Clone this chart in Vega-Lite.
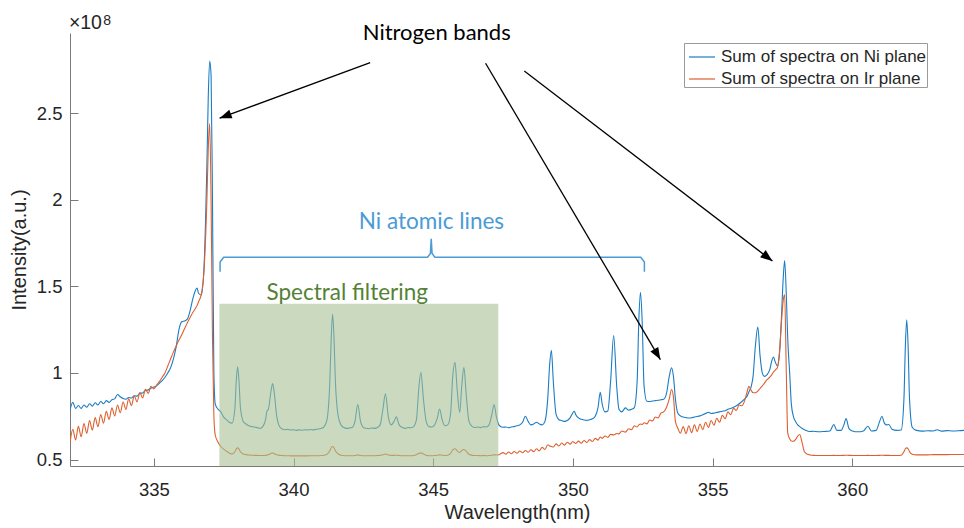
{
  "$schema": "https://vega.github.io/schema/vega-lite/v6.json",
  "width": 894,
  "height": 433,
  "autosize": {"type": "none"},
  "padding": {"left": 70, "top": 33, "right": 0, "bottom": 62},
  "background": "white",
  "config": {
    "view": {"stroke": null},
    "font": "Liberation Sans",
    "axis": {
      "grid": false,
      "domainColor": "#7a7a7a",
      "tickColor": "#7a7a7a",
      "labelColor": "#262626",
      "titleColor": "#262626",
      "labelFont": "Liberation Sans",
      "titleFont": "Liberation Sans",
      "labelFontSize": 18.5,
      "titleFontSize": 20,
      "titleFontWeight": "normal"
    }
  },
  "datasets": {
    "spectra": [
      {"w": 332.0, "ni": 0.785, "ir": 0.595},
      {"w": 332.1, "ni": 0.830, "ir": 0.674},
      {"w": 332.2, "ni": 0.795, "ir": 0.613},
      {"w": 332.3, "ni": 0.812, "ir": 0.691},
      {"w": 332.4, "ni": 0.795, "ir": 0.632},
      {"w": 332.5, "ni": 0.815, "ir": 0.708},
      {"w": 332.6, "ni": 0.802, "ir": 0.651},
      {"w": 332.7, "ni": 0.822, "ir": 0.725},
      {"w": 332.8, "ni": 0.808, "ir": 0.670},
      {"w": 332.9, "ni": 0.828, "ir": 0.742},
      {"w": 333.0, "ni": 0.815, "ir": 0.689},
      {"w": 333.1, "ni": 0.835, "ir": 0.760},
      {"w": 333.2, "ni": 0.822, "ir": 0.710},
      {"w": 333.3, "ni": 0.840, "ir": 0.779},
      {"w": 333.4, "ni": 0.830, "ir": 0.731},
      {"w": 333.5, "ni": 0.845, "ir": 0.798},
      {"w": 333.6, "ni": 0.850, "ir": 0.751},
      {"w": 333.7, "ni": 0.875, "ir": 0.815},
      {"w": 333.8, "ni": 0.862, "ir": 0.770},
      {"w": 333.9, "ni": 0.852, "ir": 0.832},
      {"w": 334.0, "ni": 0.848, "ir": 0.789},
      {"w": 334.1, "ni": 0.858, "ir": 0.850},
      {"w": 334.2, "ni": 0.855, "ir": 0.811},
      {"w": 334.3, "ni": 0.868, "ir": 0.868},
      {"w": 334.4, "ni": 0.866, "ir": 0.833},
      {"w": 334.5, "ni": 0.882, "ir": 0.886},
      {"w": 334.6, "ni": 0.884, "ir": 0.856},
      {"w": 334.7, "ni": 0.898, "ir": 0.905},
      {"w": 334.8, "ni": 0.902, "ir": 0.882},
      {"w": 334.9, "ni": 0.912, "ir": 0.923},
      {"w": 335.0, "ni": 0.918, "ir": 0.908},
      {"w": 335.1, "ni": 0.925, "ir": 0.930},
      {"w": 335.2, "ni": 0.940, "ir": 0.950},
      {"w": 335.3, "ni": 0.955, "ir": 0.975},
      {"w": 335.4, "ni": 0.975, "ir": 1.000},
      {"w": 335.5, "ni": 1.000, "ir": 1.040},
      {"w": 335.6, "ni": 1.030, "ir": 1.080},
      {"w": 335.7, "ni": 1.080, "ir": 1.120},
      {"w": 335.8, "ni": 1.150, "ir": 1.155},
      {"w": 335.9, "ni": 1.250, "ir": 1.190},
      {"w": 336.0, "ni": 1.295, "ir": 1.220},
      {"w": 336.1, "ni": 1.300, "ir": 1.255},
      {"w": 336.2, "ni": 1.310, "ir": 1.290},
      {"w": 336.3, "ni": 1.360, "ir": 1.320},
      {"w": 336.4, "ni": 1.430, "ir": 1.350},
      {"w": 336.5, "ni": 1.480, "ir": 1.375},
      {"w": 336.55, "ni": 1.490, "ir": 1.390},
      {"w": 336.6, "ni": 1.460, "ir": 1.410},
      {"w": 336.7, "ni": 1.450, "ir": 1.455},
      {"w": 336.8, "ni": 1.620, "ir": 1.600},
      {"w": 336.9, "ni": 2.200, "ir": 2.000},
      {"w": 336.95, "ni": 2.600, "ir": 2.300},
      {"w": 337.0, "ni": 2.800, "ir": 2.440},
      {"w": 337.05, "ni": 2.720, "ir": 2.000},
      {"w": 337.1, "ni": 2.000, "ir": 1.200},
      {"w": 337.15, "ni": 1.000, "ir": 0.750},
      {"w": 337.2, "ni": 0.820, "ir": 0.640},
      {"w": 337.3, "ni": 0.790, "ir": 0.600},
      {"w": 337.4, "ni": 0.775, "ir": 0.575},
      {"w": 337.5, "ni": 0.745, "ir": 0.560},
      {"w": 337.6, "ni": 0.730, "ir": 0.548},
      {"w": 337.7, "ni": 0.715, "ir": 0.538},
      {"w": 337.8, "ni": 0.710, "ir": 0.532},
      {"w": 337.9, "ni": 0.790, "ir": 0.545},
      {"w": 337.95, "ni": 0.950, "ir": 0.560},
      {"w": 338.0, "ni": 1.035, "ir": 0.567},
      {"w": 338.05, "ni": 0.950, "ir": 0.560},
      {"w": 338.1, "ni": 0.800, "ir": 0.545},
      {"w": 338.2, "ni": 0.720, "ir": 0.532},
      {"w": 338.3, "ni": 0.705, "ir": 0.528},
      {"w": 338.4, "ni": 0.695, "ir": 0.526},
      {"w": 338.5, "ni": 0.690, "ir": 0.525},
      {"w": 338.6, "ni": 0.688, "ir": 0.524},
      {"w": 338.7, "ni": 0.684, "ir": 0.524},
      {"w": 338.8, "ni": 0.680, "ir": 0.523},
      {"w": 338.9, "ni": 0.690, "ir": 0.523},
      {"w": 339.0, "ni": 0.730, "ir": 0.524},
      {"w": 339.05, "ni": 0.780, "ir": 0.526},
      {"w": 339.1, "ni": 0.790, "ir": 0.528},
      {"w": 339.2, "ni": 0.900, "ir": 0.536},
      {"w": 339.25, "ni": 0.938, "ir": 0.538},
      {"w": 339.3, "ni": 0.900, "ir": 0.534},
      {"w": 339.4, "ni": 0.750, "ir": 0.527},
      {"w": 339.5, "ni": 0.690, "ir": 0.524},
      {"w": 339.6, "ni": 0.676, "ir": 0.523},
      {"w": 339.7, "ni": 0.672, "ir": 0.522},
      {"w": 339.8, "ni": 0.674, "ir": 0.522},
      {"w": 339.9, "ni": 0.670, "ir": 0.521},
      {"w": 340.0, "ni": 0.672, "ir": 0.521},
      {"w": 340.1, "ni": 0.668, "ir": 0.521},
      {"w": 340.2, "ni": 0.671, "ir": 0.521},
      {"w": 340.3, "ni": 0.669, "ir": 0.521},
      {"w": 340.4, "ni": 0.672, "ir": 0.521},
      {"w": 340.5, "ni": 0.670, "ir": 0.521},
      {"w": 340.6, "ni": 0.673, "ir": 0.522},
      {"w": 340.7, "ni": 0.671, "ir": 0.522},
      {"w": 340.8, "ni": 0.674, "ir": 0.522},
      {"w": 340.9, "ni": 0.676, "ir": 0.522},
      {"w": 341.0, "ni": 0.680, "ir": 0.523},
      {"w": 341.1, "ni": 0.690, "ir": 0.525},
      {"w": 341.2, "ni": 0.730, "ir": 0.530},
      {"w": 341.3, "ni": 0.950, "ir": 0.550},
      {"w": 341.35, "ni": 1.200, "ir": 0.568},
      {"w": 341.4, "ni": 1.340, "ir": 0.575},
      {"w": 341.45, "ni": 1.200, "ir": 0.568},
      {"w": 341.5, "ni": 0.950, "ir": 0.550},
      {"w": 341.6, "ni": 0.750, "ir": 0.532},
      {"w": 341.7, "ni": 0.700, "ir": 0.525},
      {"w": 341.8, "ni": 0.685, "ir": 0.523},
      {"w": 341.9, "ni": 0.680, "ir": 0.522},
      {"w": 342.0, "ni": 0.682, "ir": 0.522},
      {"w": 342.1, "ni": 0.685, "ir": 0.522},
      {"w": 342.2, "ni": 0.720, "ir": 0.523},
      {"w": 342.3, "ni": 0.817, "ir": 0.527},
      {"w": 342.4, "ni": 0.720, "ir": 0.523},
      {"w": 342.5, "ni": 0.685, "ir": 0.522},
      {"w": 342.6, "ni": 0.680, "ir": 0.522},
      {"w": 342.7, "ni": 0.678, "ir": 0.522},
      {"w": 342.8, "ni": 0.682, "ir": 0.522},
      {"w": 342.9, "ni": 0.680, "ir": 0.522},
      {"w": 343.0, "ni": 0.685, "ir": 0.523},
      {"w": 343.1, "ni": 0.700, "ir": 0.524},
      {"w": 343.2, "ni": 0.790, "ir": 0.527},
      {"w": 343.29, "ni": 0.879, "ir": 0.532},
      {"w": 343.4, "ni": 0.740, "ir": 0.526},
      {"w": 343.5, "ni": 0.700, "ir": 0.524},
      {"w": 343.6, "ni": 0.720, "ir": 0.524},
      {"w": 343.68, "ni": 0.746, "ir": 0.525},
      {"w": 343.78, "ni": 0.700, "ir": 0.523},
      {"w": 343.9, "ni": 0.685, "ir": 0.522},
      {"w": 344.0, "ni": 0.680, "ir": 0.522},
      {"w": 344.1, "ni": 0.685, "ir": 0.522},
      {"w": 344.2, "ni": 0.683, "ir": 0.522},
      {"w": 344.3, "ni": 0.690, "ir": 0.523},
      {"w": 344.4, "ni": 0.730, "ir": 0.528},
      {"w": 344.48, "ni": 0.900, "ir": 0.535},
      {"w": 344.56, "ni": 1.003, "ir": 0.538},
      {"w": 344.65, "ni": 0.850, "ir": 0.532},
      {"w": 344.75, "ni": 0.720, "ir": 0.525},
      {"w": 344.85, "ni": 0.690, "ir": 0.522},
      {"w": 344.95, "ni": 0.688, "ir": 0.522},
      {"w": 345.05, "ni": 0.700, "ir": 0.523},
      {"w": 345.15, "ni": 0.740, "ir": 0.525},
      {"w": 345.23, "ni": 0.792, "ir": 0.527},
      {"w": 345.32, "ni": 0.730, "ir": 0.525},
      {"w": 345.42, "ni": 0.695, "ir": 0.523},
      {"w": 345.52, "ni": 0.700, "ir": 0.525},
      {"w": 345.62, "ni": 0.760, "ir": 0.535},
      {"w": 345.7, "ni": 0.980, "ir": 0.555},
      {"w": 345.78, "ni": 1.061, "ir": 0.562},
      {"w": 345.86, "ni": 0.900, "ir": 0.550},
      {"w": 345.95, "ni": 0.771, "ir": 0.540},
      {"w": 346.02, "ni": 0.920, "ir": 0.552},
      {"w": 346.1, "ni": 1.032, "ir": 0.558},
      {"w": 346.18, "ni": 0.880, "ir": 0.548},
      {"w": 346.28, "ni": 0.720, "ir": 0.530},
      {"w": 346.4, "ni": 0.690, "ir": 0.524},
      {"w": 346.5, "ni": 0.685, "ir": 0.523},
      {"w": 346.6, "ni": 0.688, "ir": 0.523},
      {"w": 346.7, "ni": 0.684, "ir": 0.522},
      {"w": 346.8, "ni": 0.690, "ir": 0.523},
      {"w": 346.9, "ni": 0.688, "ir": 0.522},
      {"w": 347.0, "ni": 0.700, "ir": 0.523},
      {"w": 347.1, "ni": 0.760, "ir": 0.525},
      {"w": 347.18, "ni": 0.817, "ir": 0.527},
      {"w": 347.27, "ni": 0.740, "ir": 0.526},
      {"w": 347.35, "ni": 0.700, "ir": 0.527},
      {"w": 347.4, "ni": 0.692, "ir": 0.532},
      {"w": 347.5, "ni": 0.686, "ir": 0.540},
      {"w": 347.6, "ni": 0.688, "ir": 0.530},
      {"w": 347.7, "ni": 0.683, "ir": 0.543},
      {"w": 347.8, "ni": 0.688, "ir": 0.533},
      {"w": 347.9, "ni": 0.690, "ir": 0.546},
      {"w": 348.0, "ni": 0.695, "ir": 0.536},
      {"w": 348.1, "ni": 0.700, "ir": 0.549},
      {"w": 348.2, "ni": 0.715, "ir": 0.539},
      {"w": 348.3, "ni": 0.750, "ir": 0.552},
      {"w": 348.4, "ni": 0.720, "ir": 0.542},
      {"w": 348.5, "ni": 0.700, "ir": 0.556},
      {"w": 348.6, "ni": 0.705, "ir": 0.545},
      {"w": 348.7, "ni": 0.715, "ir": 0.562},
      {"w": 348.8, "ni": 0.705, "ir": 0.550},
      {"w": 348.9, "ni": 0.700, "ir": 0.570},
      {"w": 349.0, "ni": 0.720, "ir": 0.558},
      {"w": 349.1, "ni": 0.850, "ir": 0.585},
      {"w": 349.17, "ni": 1.050, "ir": 0.578},
      {"w": 349.23, "ni": 1.130, "ir": 0.575},
      {"w": 349.3, "ni": 0.950, "ir": 0.572},
      {"w": 349.4, "ni": 0.760, "ir": 0.590},
      {"w": 349.5, "ni": 0.730, "ir": 0.578},
      {"w": 349.6, "ni": 0.725, "ir": 0.595},
      {"w": 349.7, "ni": 0.720, "ir": 0.583},
      {"w": 349.8, "ni": 0.725, "ir": 0.600},
      {"w": 349.9, "ni": 0.740, "ir": 0.588},
      {"w": 350.0, "ni": 0.770, "ir": 0.604},
      {"w": 350.05, "ni": 0.779, "ir": 0.598},
      {"w": 350.1, "ni": 0.760, "ir": 0.592},
      {"w": 350.2, "ni": 0.740, "ir": 0.606},
      {"w": 350.3, "ni": 0.732, "ir": 0.594},
      {"w": 350.4, "ni": 0.728, "ir": 0.610},
      {"w": 350.5, "ni": 0.726, "ir": 0.598},
      {"w": 350.6, "ni": 0.730, "ir": 0.615},
      {"w": 350.7, "ni": 0.735, "ir": 0.604},
      {"w": 350.8, "ni": 0.750, "ir": 0.622},
      {"w": 350.9, "ni": 0.800, "ir": 0.612},
      {"w": 350.98, "ni": 0.888, "ir": 0.630},
      {"w": 351.05, "ni": 0.820, "ir": 0.622},
      {"w": 351.15, "ni": 0.775, "ir": 0.636},
      {"w": 351.25, "ni": 0.780, "ir": 0.628},
      {"w": 351.35, "ni": 0.950, "ir": 0.645},
      {"w": 351.46, "ni": 1.215, "ir": 0.642},
      {"w": 351.57, "ni": 0.920, "ir": 0.650},
      {"w": 351.65, "ni": 0.790, "ir": 0.648},
      {"w": 351.75, "ni": 0.775, "ir": 0.665},
      {"w": 351.88, "ni": 0.798, "ir": 0.658},
      {"w": 352.0, "ni": 0.785, "ir": 0.678},
      {"w": 352.1, "ni": 0.790, "ir": 0.672},
      {"w": 352.2, "ni": 0.800, "ir": 0.695},
      {"w": 352.3, "ni": 0.950, "ir": 0.688},
      {"w": 352.36, "ni": 1.300, "ir": 0.700},
      {"w": 352.42, "ni": 1.465, "ir": 0.705},
      {"w": 352.48, "ni": 1.300, "ir": 0.702},
      {"w": 352.55, "ni": 0.920, "ir": 0.712},
      {"w": 352.65, "ni": 0.836, "ir": 0.706},
      {"w": 352.75, "ni": 0.835, "ir": 0.728},
      {"w": 352.85, "ni": 0.838, "ir": 0.722},
      {"w": 352.95, "ni": 0.840, "ir": 0.745},
      {"w": 353.05, "ni": 0.842, "ir": 0.740},
      {"w": 353.15, "ni": 0.845, "ir": 0.768},
      {"w": 353.25, "ni": 0.848, "ir": 0.775},
      {"w": 353.35, "ni": 0.880, "ir": 0.800},
      {"w": 353.45, "ni": 0.980, "ir": 0.850},
      {"w": 353.53, "ni": 1.029, "ir": 0.904},
      {"w": 353.6, "ni": 0.980, "ir": 0.860},
      {"w": 353.67, "ni": 0.850, "ir": 0.720},
      {"w": 353.75, "ni": 0.770, "ir": 0.683},
      {"w": 353.85, "ni": 0.752, "ir": 0.652},
      {"w": 353.95, "ni": 0.745, "ir": 0.690},
      {"w": 354.05, "ni": 0.742, "ir": 0.650},
      {"w": 354.15, "ni": 0.740, "ir": 0.695},
      {"w": 354.25, "ni": 0.741, "ir": 0.655},
      {"w": 354.35, "ni": 0.745, "ir": 0.700},
      {"w": 354.45, "ni": 0.748, "ir": 0.662},
      {"w": 354.55, "ni": 0.752, "ir": 0.705},
      {"w": 354.65, "ni": 0.758, "ir": 0.672},
      {"w": 354.75, "ni": 0.765, "ir": 0.715},
      {"w": 354.85, "ni": 0.773, "ir": 0.685},
      {"w": 354.95, "ni": 0.766, "ir": 0.725},
      {"w": 355.05, "ni": 0.768, "ir": 0.698},
      {"w": 355.15, "ni": 0.772, "ir": 0.738},
      {"w": 355.25, "ni": 0.775, "ir": 0.715},
      {"w": 355.35, "ni": 0.779, "ir": 0.755},
      {"w": 355.45, "ni": 0.782, "ir": 0.735},
      {"w": 355.55, "ni": 0.790, "ir": 0.775},
      {"w": 355.65, "ni": 0.795, "ir": 0.758},
      {"w": 355.75, "ni": 0.802, "ir": 0.795},
      {"w": 355.85, "ni": 0.810, "ir": 0.783},
      {"w": 355.95, "ni": 0.822, "ir": 0.815},
      {"w": 356.05, "ni": 0.835, "ir": 0.810},
      {"w": 356.15, "ni": 0.850, "ir": 0.840},
      {"w": 356.25, "ni": 0.870, "ir": 0.900},
      {"w": 356.3, "ni": 0.890, "ir": 0.923},
      {"w": 356.38, "ni": 0.920, "ir": 0.900},
      {"w": 356.45, "ni": 0.980, "ir": 0.885},
      {"w": 356.53, "ni": 1.150, "ir": 0.885},
      {"w": 356.62, "ni": 1.265, "ir": 0.895},
      {"w": 356.7, "ni": 1.100, "ir": 0.910},
      {"w": 356.78, "ni": 1.000, "ir": 0.925},
      {"w": 356.85, "ni": 0.980, "ir": 0.940},
      {"w": 356.95, "ni": 0.990, "ir": 0.961},
      {"w": 357.05, "ni": 1.020, "ir": 0.975},
      {"w": 357.12, "ni": 1.070, "ir": 0.990},
      {"w": 357.18, "ni": 1.092, "ir": 1.005},
      {"w": 357.25, "ni": 1.060, "ir": 1.018},
      {"w": 357.32, "ni": 1.040, "ir": 1.030},
      {"w": 357.4, "ni": 1.120, "ir": 1.130},
      {"w": 357.46, "ni": 1.300, "ir": 1.280},
      {"w": 357.53, "ni": 1.550, "ir": 1.420},
      {"w": 357.58, "ni": 1.649, "ir": 1.452},
      {"w": 357.64, "ni": 1.450, "ir": 1.000},
      {"w": 357.69, "ni": 1.200, "ir": 0.654},
      {"w": 357.76, "ni": 1.000, "ir": 0.620},
      {"w": 357.82, "ni": 0.820, "ir": 0.607},
      {"w": 357.9, "ni": 0.745, "ir": 0.605},
      {"w": 357.97, "ni": 0.720, "ir": 0.615},
      {"w": 358.05, "ni": 0.700, "ir": 0.635},
      {"w": 358.12, "ni": 0.690, "ir": 0.644},
      {"w": 358.2, "ni": 0.680, "ir": 0.600},
      {"w": 358.29, "ni": 0.672, "ir": 0.545},
      {"w": 358.4, "ni": 0.665, "ir": 0.530},
      {"w": 358.5, "ni": 0.662, "ir": 0.526},
      {"w": 358.6, "ni": 0.663, "ir": 0.524},
      {"w": 358.8, "ni": 0.660, "ir": 0.523},
      {"w": 359.0, "ni": 0.662, "ir": 0.523},
      {"w": 359.2, "ni": 0.665, "ir": 0.523},
      {"w": 359.34, "ni": 0.702, "ir": 0.524},
      {"w": 359.45, "ni": 0.668, "ir": 0.523},
      {"w": 359.6, "ni": 0.668, "ir": 0.523},
      {"w": 359.7, "ni": 0.700, "ir": 0.524},
      {"w": 359.78, "ni": 0.736, "ir": 0.525},
      {"w": 359.88, "ni": 0.680, "ir": 0.524},
      {"w": 360.0, "ni": 0.665, "ir": 0.523},
      {"w": 360.2, "ni": 0.660, "ir": 0.523},
      {"w": 360.4, "ni": 0.665, "ir": 0.523},
      {"w": 360.56, "ni": 0.692, "ir": 0.524},
      {"w": 360.68, "ni": 0.665, "ir": 0.523},
      {"w": 360.85, "ni": 0.668, "ir": 0.523},
      {"w": 360.98, "ni": 0.720, "ir": 0.524},
      {"w": 361.06, "ni": 0.750, "ir": 0.525},
      {"w": 361.15, "ni": 0.710, "ir": 0.524},
      {"w": 361.22, "ni": 0.700, "ir": 0.524},
      {"w": 361.31, "ni": 0.702, "ir": 0.524},
      {"w": 361.42, "ni": 0.675, "ir": 0.523},
      {"w": 361.6, "ni": 0.668, "ir": 0.523},
      {"w": 361.75, "ni": 0.670, "ir": 0.525},
      {"w": 361.85, "ni": 0.850, "ir": 0.545},
      {"w": 361.9, "ni": 1.150, "ir": 0.562},
      {"w": 361.95, "ni": 1.307, "ir": 0.567},
      {"w": 362.0, "ni": 1.150, "ir": 0.562},
      {"w": 362.05, "ni": 0.850, "ir": 0.545},
      {"w": 362.15, "ni": 0.685, "ir": 0.530},
      {"w": 362.3, "ni": 0.668, "ir": 0.527},
      {"w": 362.5, "ni": 0.664, "ir": 0.527},
      {"w": 362.7, "ni": 0.666, "ir": 0.527},
      {"w": 362.9, "ni": 0.665, "ir": 0.528},
      {"w": 363.04, "ni": 0.672, "ir": 0.528},
      {"w": 363.2, "ni": 0.664, "ir": 0.528},
      {"w": 363.4, "ni": 0.667, "ir": 0.528},
      {"w": 363.6, "ni": 0.665, "ir": 0.529},
      {"w": 363.8, "ni": 0.666, "ir": 0.529},
      {"w": 364.0, "ni": 0.668, "ir": 0.529}
    ],
    "arrows": [
      {"id": 1, "ws": 342.745, "vs": 2.791, "we": 337.355, "ve": 2.471},
      {"id": 2, "ws": 346.875, "vs": 2.788, "we": 353.132, "ve": 1.077},
      {"id": 3, "ws": 348.261, "vs": 2.743, "we": 357.143, "ve": 1.646}
    ],
    "bracket": [
      {"step": 1, "w": 337.372, "v": 1.584},
      {"step": 2, "w": 337.372, "v": 1.640},
      {"step": 3, "w": 337.50, "v": 1.668},
      {"step": 4, "w": 344.80, "v": 1.668},
      {"step": 5, "w": 344.90, "v": 1.690},
      {"step": 6, "w": 344.93, "v": 1.775},
      {"step": 7, "w": 344.96, "v": 1.690},
      {"step": 8, "w": 345.06, "v": 1.668},
      {"step": 9, "w": 352.43, "v": 1.668},
      {"step": 10, "w": 352.56, "v": 1.640},
      {"step": 11, "w": 352.56, "v": 1.584}
    ]
  },
  "layer": [
    {
      "data": {"name": "spectra"},
      "transform": [{"fold": ["ni", "ir"], "as": ["series", "intensity"]}],
      "mark": {"type": "line", "strokeWidth": 1.1, "interpolate": "monotone", "clip": true},
      "encoding": {
        "x": {
          "field": "w",
          "type": "quantitative",
          "title": "Wavelength(nm)",
          "scale": {"domain": [332, 364], "nice": false, "zero": false},
          "axis": {
            "values": [335, 340, 345, 350, 355, 360],
            "tickSize": -8,
            "labelPadding": 22,
            "titlePadding": 4
          }
        },
        "y": {
          "field": "intensity",
          "type": "quantitative",
          "title": "Intensity(a.u.)",
          "scale": {"domain": [0.4625, 2.9625], "nice": false, "zero": false},
          "axis": {
            "values": [0.5, 1, 1.5, 2, 2.5],
            "format": "~g",
            "tickSize": -8,
            "labelPadding": 16,
            "titlePadding": 7
          }
        },
        "color": {
          "field": "series",
          "type": "nominal",
          "scale": {"domain": ["ni", "ir"], "range": ["#1a7cc4", "#de5f2e"]},
          "legend": {
            "orient": "none",
            "legendX": 614,
            "legendY": 10,
            "title": null,
            "labelExpr": "datum.label == 'ni' ? 'Sum of spectra on Ni plane' : 'Sum of spectra on Ir plane'",
            "labelFont": "Liberation Sans",
            "labelFontSize": 17,
            "labelColor": "#262626",
            "labelLimit": 0,
            "labelOffset": 5,
            "symbolType": "stroke",
            "symbolSize": 676,
            "symbolStrokeWidth": 1.2,
            "symbolOffset": 4,
            "rowPadding": -3,
            "padding": 0,
            "strokeColor": "#9a9a9a",
            "fillColor": "white"
          }
        }
      }
    },
    {
      "data": {"values": [{"w0": 337.347, "w1": 347.33, "v0": 0.4625, "v1": 1.40}]},
      "mark": {"type": "rect", "color": "#a8c293", "opacity": 0.6},
      "encoding": {
        "x": {"field": "w0", "type": "quantitative", "title": "Wavelength(nm)"},
        "x2": {"field": "w1"},
        "y": {"field": "v0", "type": "quantitative", "title": "Intensity(a.u.)"},
        "y2": {"field": "v1"}
      }
    },
    {
      "data": {"name": "bracket"},
      "mark": {"type": "line", "color": "#4a9bd6", "strokeWidth": 1.5},
      "encoding": {
        "x": {"field": "w", "type": "quantitative", "title": "Wavelength(nm)"},
        "y": {"field": "v", "type": "quantitative", "title": "Intensity(a.u.)"},
        "order": {"field": "step"}
      }
    },
    {
      "data": {"name": "arrows"},
      "mark": {"type": "rule", "color": "black", "strokeWidth": 1.3},
      "encoding": {
        "x": {"field": "ws", "type": "quantitative", "title": "Wavelength(nm)"},
        "y": {"field": "vs", "type": "quantitative", "title": "Intensity(a.u.)"},
        "x2": {"field": "we"},
        "y2": {"field": "ve"}
      }
    },
    {
      "data": {"name": "arrows"},
      "transform": [{"filter": "datum.id == 1"}],
      "mark": {"type": "point", "shape": "M0,0L-0.38,1L0.38,1Z", "filled": true, "color": "black", "opacity": 1, "size": 576, "angle": 249.7},
      "encoding": {
        "x": {"field": "we", "type": "quantitative", "title": "Wavelength(nm)"},
        "y": {"field": "ve", "type": "quantitative", "title": "Intensity(a.u.)"}
      }
    },
    {
      "data": {"name": "arrows"},
      "transform": [{"filter": "datum.id == 2"}],
      "mark": {"type": "point", "shape": "M0,0L-0.38,1L0.38,1Z", "filled": true, "color": "black", "opacity": 1, "size": 576, "angle": 149.5},
      "encoding": {
        "x": {"field": "we", "type": "quantitative", "title": "Wavelength(nm)"},
        "y": {"field": "ve", "type": "quantitative", "title": "Intensity(a.u.)"}
      }
    },
    {
      "data": {"name": "arrows"},
      "transform": [{"filter": "datum.id == 3"}],
      "mark": {"type": "point", "shape": "M0,0L-0.38,1L0.38,1Z", "filled": true, "color": "black", "opacity": 1, "size": 576, "angle": 127.5},
      "encoding": {
        "x": {"field": "we", "type": "quantitative", "title": "Wavelength(nm)"},
        "y": {"field": "ve", "type": "quantitative", "title": "Intensity(a.u.)"}
      }
    },
    {
      "data": {"values": [{"w": 345.127, "v": 2.922, "note": "Nitrogen bands"}]},
      "mark": {"type": "text", "font": "Lato", "fontSize": 22, "color": "black", "align": "center", "baseline": "alphabetic"},
      "encoding": {
        "x": {"field": "w", "type": "quantitative", "title": "Wavelength(nm)"},
        "y": {"field": "v", "type": "quantitative", "title": "Intensity(a.u.)"},
        "text": {"field": "note"}
      }
    },
    {
      "data": {"values": [{"w": 344.937, "v": 1.830, "note": "Ni atomic lines"}]},
      "mark": {"type": "text", "font": "Lato", "fontSize": 22.5, "color": "#4a9bd6", "align": "center", "baseline": "alphabetic"},
      "encoding": {
        "x": {"field": "w", "type": "quantitative", "title": "Wavelength(nm)"},
        "y": {"field": "v", "type": "quantitative", "title": "Intensity(a.u.)"},
        "text": {"field": "note"}
      }
    },
    {
      "data": {"values": [{"w": 341.921, "v": 1.423, "note": "Spectral filtering"}]},
      "mark": {"type": "text", "font": "Lato", "fontSize": 22.5, "color": "#548235", "align": "center", "baseline": "alphabetic"},
      "encoding": {
        "x": {"field": "w", "type": "quantitative", "title": "Wavelength(nm)"},
        "y": {"field": "v", "type": "quantitative", "title": "Intensity(a.u.)"},
        "text": {"field": "note"}
      }
    },
    {
      "data": {"values": [{"w": 331.96, "v": 2.986, "note": "×10"}]},
      "mark": {"type": "text", "font": "Liberation Sans", "fontSize": 19.5, "color": "#262626", "align": "left", "baseline": "alphabetic"},
      "encoding": {
        "x": {"field": "w", "type": "quantitative", "title": "Wavelength(nm)"},
        "y": {"field": "v", "type": "quantitative", "title": "Intensity(a.u.)"},
        "text": {"field": "note"}
      }
    },
    {
      "data": {"values": [{"w": 333.19, "v": 3.009, "note": "8"}]},
      "mark": {"type": "text", "font": "Liberation Sans", "fontSize": 14, "color": "#262626", "align": "left", "baseline": "alphabetic"},
      "encoding": {
        "x": {"field": "w", "type": "quantitative", "title": "Wavelength(nm)"},
        "y": {"field": "v", "type": "quantitative", "title": "Intensity(a.u.)"},
        "text": {"field": "note"}
      }
    }
  ]
}
